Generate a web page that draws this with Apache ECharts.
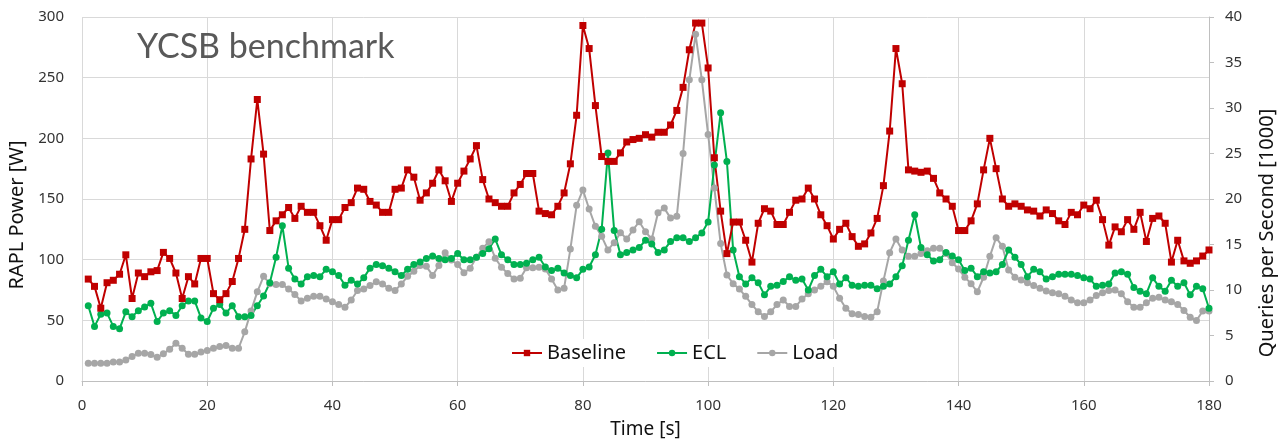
<!DOCTYPE html>
<html>
<head>
<meta charset="utf-8">
<title>YCSB benchmark</title>
<script src="https://cdn.jsdelivr.net/npm/echarts@6/dist/echarts.min.js"></script>
<style>
html, body { margin: 0; padding: 0; background: #fff; }
#chart { width: 1278px; height: 440px; }
</style>
</head>
<body>
<div id="chart"></div>
<script>
// seconds 1..180 (one sample per second)
var seconds = [];
for (var s = 1; s <= 180; s++) seconds.push(s);

// RAPL power [W]
var baseline = [
    84, 78, 60, 81, 83, 88, 104, 68, 89, 86,
    90, 91, 106, 101, 89, 68, 86, 80, 101, 101,
    72, 67, 72, 82, 101, 125, 183, 232, 187, 124,
    132, 137, 143, 134, 144, 139, 139, 128, 116, 133,
    133, 143, 147, 159, 158, 148, 145, 139, 139, 158,
    159, 174, 168, 149, 155, 163, 174, 165, 148, 163,
    173, 183, 194, 166, 150, 147, 144, 144, 155, 162,
    171, 171, 140, 138, 137, 144, 155, 179, 219, 293,
    274, 227, 185, 181, 181, 188, 197, 199, 200, 203,
    201, 205, 205, 211, 223, 242, 273, 295, 295, 258,
    184, 140, 105, 131, 131, 116, 98, 130, 142, 140,
    129, 129, 139, 149, 150, 159, 150, 137, 128, 117,
    125, 130, 119, 111, 113, 122, 134, 161, 206, 274,
    245, 174, 173, 172, 173, 167, 155, 150, 144, 124,
    124, 132, 146, 174, 200, 175, 150, 144, 146, 144,
    141, 140, 136, 141, 138, 132, 129, 139, 137, 145,
    142, 149, 133, 112, 127, 123, 133, 125, 139, 115,
    134, 136, 130, 98, 116, 99, 97, 99, 103, 108
];
var ecl = [
    62, 45, 55, 56, 45, 43, 57, 53, 58, 61,
    64, 49, 56, 58, 54, 62, 66, 66, 52, 49,
    60, 63, 56, 62, 53, 53, 54, 62, 70, 81,
    102, 128, 93, 84, 80, 86, 87, 86, 92, 90,
    87, 79, 83, 80, 85, 93, 96, 95, 93, 90,
    87, 92, 96, 98, 101, 103, 101, 100, 101, 105,
    100, 100, 102, 105, 109, 117, 104, 100, 96, 96,
    97, 100, 102, 94, 91, 93, 89, 87, 85, 92,
    94, 104, 125, 188, 124, 104, 106, 108, 110, 116,
    113, 106, 108, 115, 118, 118, 115, 118, 122, 131,
    178, 221, 181, 108, 86, 80, 85, 81, 71, 78,
    79, 82, 86, 83, 84, 75, 87, 92, 86, 90,
    80, 85, 79, 78, 79, 79, 76, 78, 80, 86,
    95, 116, 137, 110, 104, 99, 100, 106, 103, 100,
    91, 93, 86, 90, 89, 90, 96, 108, 102, 96,
    86, 92, 90, 84, 86, 88, 88, 88, 87, 85,
    84, 78, 79, 80, 89, 90, 88, 77, 74, 72,
    85, 78, 74, 83, 78, 81, 71, 78, 76, 60
];
// queries per second [1000]
var load = [
    1.95, 1.95, 1.95, 1.95, 2.1, 2.1, 2.3, 2.7, 3.05, 3.05,
    2.9, 2.6, 3.0, 3.5, 4.15, 3.6, 2.95, 2.95, 3.2, 3.35,
    3.6, 3.8, 3.9, 3.6, 3.6, 5.4, 7.7, 9.8, 11.5, 10.7,
    10.6, 10.6, 10.1, 9.5, 8.8, 9.1, 9.3, 9.3, 9.0, 8.7,
    8.4, 8.1, 8.9, 9.95, 10.1, 10.5, 10.9, 10.65, 10.2, 9.95,
    10.65, 11.5, 12.05, 12.7, 12.6, 11.6, 12.7, 14.1, 13.3, 12.8,
    11.9, 12.4, 13.6, 14.6, 15.3, 13.5, 12.5, 11.8, 11.2, 11.3,
    12.45, 12.45, 12.5, 12.3, 11.2, 10.0, 10.2, 14.5, 19.3, 21.0,
    18.9, 17.0, 15.9, 14.4, 15.2, 16.3, 15.6, 16.6, 17.5, 16.4,
    15.6, 18.5, 19.0, 17.9, 18.1, 25.0, 33.1, 38.1, 33.1, 27.1,
    21.2, 15.1, 11.65, 10.7, 10.1, 9.3, 8.4, 7.6, 7.1, 7.6,
    8.4, 8.9, 8.2, 8.2, 9.0, 9.6, 10.0, 10.4, 10.9, 10.4,
    9.1, 8.0, 7.4, 7.3, 7.1, 7.0, 7.6, 11.0, 14.1, 15.6,
    14.4, 13.7, 13.7, 14.0, 14.3, 14.6, 14.6, 14.0, 13.0, 12.3,
    11.4, 10.7, 9.8, 11.4, 13.7, 15.75, 14.8, 12.2, 11.4, 11.1,
    10.8, 10.5, 10.2, 9.9, 9.7, 9.6, 9.3, 8.9, 8.6, 8.6,
    8.9, 9.4, 9.7, 9.95, 10.0, 9.6, 8.7, 8.1, 8.1, 8.6,
    9.1, 9.2, 8.9, 8.7, 8.4, 7.75, 7.0, 6.65, 7.7, 7.7
];

var legendNames = ['Baseline', 'ECL', 'Load'];

function pairs(vals) {
    return vals.map(function (v, i) { return [seconds[i], v]; });
}

var chart = echarts.init(document.getElementById('chart'));
var tickFont = { fontFamily: 'Noto Sans', fontSize: 15, color: '#333' };

var option = {
    backgroundColor: '#fff',
    animation: false,
    title: {
        text: 'YCSB benchmark',
        left: 137,
        top: 30,
        padding: 0,
        textStyle: { fontFamily: 'Lato', fontSize: 34, fontWeight: 'normal', color: '#595959' }
    },
    legend: {
        data: legendNames,
        left: 505,
        top: 339,
        itemWidth: 30,
        itemHeight: 8,
        itemGap: 30,
        padding: [4, 6],
        backgroundColor: '#fff',
        textStyle: { fontFamily: 'Noto Sans', fontSize: 20, color: '#111' }
    },
    grid: { left: 82, right: 69, top: 17, bottom: 59, outerBoundsMode: 'none' },
    xAxis: {
        type: 'value',
        min: 0,
        max: 180,
        interval: 20,
        name: 'Time [s]',
        nameLocation: 'middle',
        nameGap: 39,
        nameTextStyle: { fontFamily: 'Noto Sans', fontSize: 19, color: '#111' },
        axisLine: { lineStyle: { color: '#bfbfbf', width: 1 } },
        axisTick: { show: true, length: 5, lineStyle: { color: '#bfbfbf' } },
        axisLabel: Object.assign({ margin: 17 }, tickFont),
        splitLine: { show: true, lineStyle: { color: '#d9d9d9', width: 1 } }
    },
    yAxis: [
        {
            type: 'value',
            min: 0,
            max: 300,
            interval: 50,
            name: 'RAPL Power [W]',
            nameLocation: 'middle',
            nameGap: 49,
            nameTextStyle: { fontFamily: 'Noto Sans', fontSize: 20, color: '#111', padding: [0, 32, 0, 0] },
            axisLine: { show: false },
            axisTick: { show: false },
            axisLabel: Object.assign({ margin: 18 }, tickFont),
            splitLine: { lineStyle: { color: '#d9d9d9', width: 1 } }
        },
        {
            type: 'value',
            min: 0,
            max: 40,
            interval: 5,
            name: 'Queries per Second [1000]',
            nameLocation: 'middle',
            nameRotate: 90,
            nameGap: 48,
            nameTextStyle: { fontFamily: 'Noto Sans', fontSize: 20, color: '#111', padding: [0, 68, 0, 0] },
            axisLine: { show: true, lineStyle: { color: '#bfbfbf', width: 1 } },
            axisTick: { show: true, length: 5, lineStyle: { color: '#bfbfbf' } },
            axisLabel: Object.assign({ margin: 16 }, tickFont),
            splitLine: { show: false }
        }
    ],
    series: [
        {
            name: 'Load',
            type: 'line',
            yAxisIndex: 1,
            data: pairs(load),
            symbol: 'circle',
            symbolSize: 7,
            color: '#a6a6a6',
            lineStyle: { width: 2, color: '#a6a6a6' },
            itemStyle: { color: '#a6a6a6' }
        },
        {
            name: 'ECL',
            type: 'line',
            yAxisIndex: 0,
            data: pairs(ecl),
            symbol: 'circle',
            symbolSize: 7,
            color: '#00b050',
            lineStyle: { width: 2, color: '#00b050' },
            itemStyle: { color: '#00b050' }
        },
        {
            name: 'Baseline',
            type: 'line',
            yAxisIndex: 0,
            data: pairs(baseline),
            symbol: 'rect',
            symbolSize: 7,
            color: '#c00000',
            lineStyle: { width: 2, color: '#c00000' },
            itemStyle: { color: '#c00000' }
        }
    ]
};

chart.setOption(option);
</script>
</body>
</html>
